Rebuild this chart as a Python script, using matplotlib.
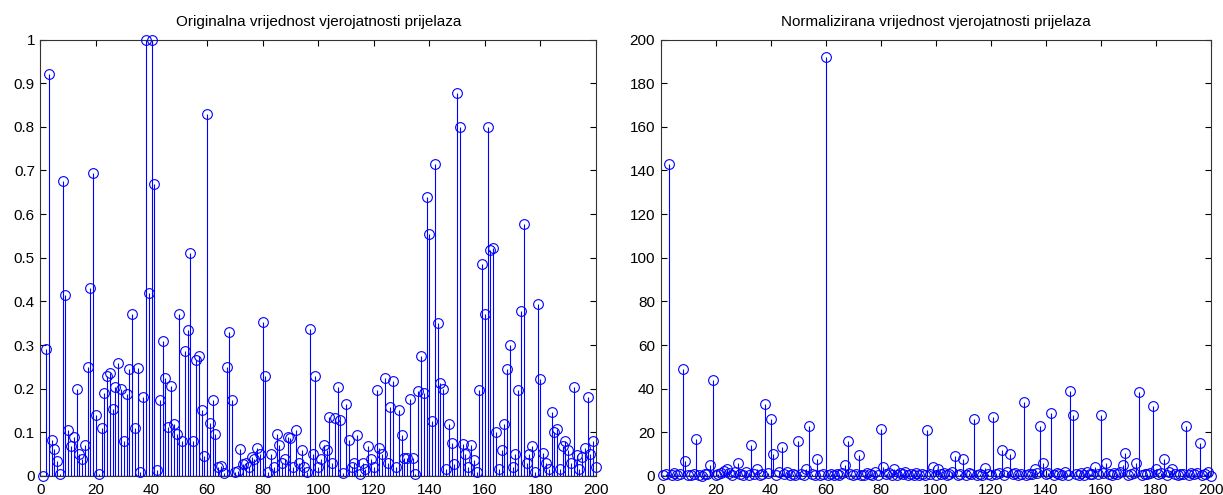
import numpy as np
import matplotlib
matplotlib.use('Agg')
import matplotlib.pyplot as plt
from matplotlib.ticker import FuncFormatter

# values (index 1..200)
original = [
    0.0, 0.29, 0.92, 0.082, 0.062, 0.034, 0.004, 0.675, 0.415, 0.105,
    0.069, 0.09, 0.20, 0.05, 0.04, 0.07, 0.25, 0.43, 0.695, 0.14,
    0.004, 0.11, 0.19, 0.23, 0.235, 0.154, 0.205, 0.26, 0.20, 0.08,
    0.187, 0.245, 0.37, 0.11, 0.248, 0.01, 0.18, 1.0, 0.42, 1.0,
    0.67, 0.014, 0.174, 0.31, 0.225, 0.113, 0.206, 0.12, 0.097, 0.37,
    0.08, 0.287, 0.334, 0.51, 0.08, 0.265, 0.276, 0.152, 0.046, 0.83,
    0.122, 0.174, 0.097, 0.02, 0.023, 0.008, 0.25, 0.33, 0.174, 0.009,
    0.012, 0.062, 0.027, 0.03, 0.02, 0.044, 0.04, 0.063, 0.05, 0.352,
    0.228, 0.01, 0.05, 0.02, 0.097, 0.07, 0.03, 0.04, 0.09, 0.088,
    0.02, 0.105, 0.03, 0.06, 0.02, 0.01, 0.337, 0.05, 0.228, 0.02,
    0.04, 0.07, 0.06, 0.135, 0.03, 0.133, 0.205, 0.128, 0.008, 0.164,
    0.082, 0.02, 0.03, 0.095, 0.005, 0.03, 0.015, 0.069, 0.04, 0.02,
    0.196, 0.065, 0.05, 0.225, 0.03, 0.158, 0.217, 0.02, 0.152, 0.095,
    0.042, 0.042, 0.177, 0.042, 0.005, 0.194, 0.276, 0.189, 0.64, 0.555,
    0.126, 0.714, 0.35, 0.213, 0.2, 0.015, 0.12, 0.076, 0.027, 0.877,
    0.80, 0.074, 0.05, 0.02, 0.07, 0.037, 0.01, 0.196, 0.485, 0.37,
    0.80, 0.518, 0.523, 0.1, 0.015, 0.06, 0.12, 0.244, 0.3, 0.02,
    0.05, 0.196, 0.377, 0.577, 0.03, 0.05, 0.069, 0.01, 0.395, 0.222,
    0.053, 0.03, 0.015, 0.146, 0.1, 0.108, 0.015, 0.069, 0.08, 0.06,
    0.03, 0.204, 0.047, 0.015, 0.044, 0.065, 0.18, 0.05, 0.08, 0.02,
]

normalized = [
    0.3, 0.8, 143, 0.5, 1.2, 0.4, 0.9, 49, 7, 0.6,
    0.3, 1.0, 17, 0.5, 0.2, 1.1, 0.7, 5, 44, 0.4,
    0.8, 1.5, 2.5, 3, 1.2, 0.5, 2, 6, 0.9, 0.4,
    2, 0.6, 14, 1.0, 3, 0.3, 0.7, 33, 1.2, 26,
    10, 0.5, 2, 13.5, 0.8, 2, 0.4, 1.1, 0.6, 16,
    0.7, 0.3, 3, 23, 1.0, 0.5, 8, 0.4, 0.9, 192,
    0.6, 1.1, 0.3, 0.8, 0.5, 1.5, 5, 16, 0.7, 0.4,
    1.0, 9.5, 0.6, 0.3, 1.2, 0.8, 0.5, 2, 0.4, 21.5,
    4, 0.7, 1.5, 0.6, 3, 0.4, 1.2, 0.8, 2, 0.5,
    0.9, 0.3, 1.4, 0.6, 0.8, 0.4, 21, 1.0, 4, 0.5,
    3, 0.7, 1.2, 0.4, 0.9, 2, 9, 0.6, 1.1, 8,
    0.5, 1.4, 0.8, 26, 0.3, 1.0, 0.6, 3.5, 0.9, 0.4,
    27, 0.7, 1.2, 12, 0.5, 2, 10, 0.8, 1.4, 0.6,
    0.9, 34, 0.4, 1.1, 0.7, 3, 1.3, 23, 6, 0.8,
    1.2, 29, 0.5, 1.5, 0.9, 0.6, 2, 0.4, 39, 28,
    1.0, 0.6, 1.3, 0.5, 2, 0.8, 1.1, 4, 0.7, 28,
    1.4, 6, 0.9, 0.5, 1.2, 0.7, 2, 5, 10.5, 0.6,
    0.9, 1.3, 6, 38.5, 0.4, 1.0, 0.7, 1.5, 32, 3,
    0.8, 1.2, 8, 0.6, 2, 3, 0.9, 0.5, 1.1, 0.7,
    23, 0.4, 1.2, 0.8, 1.5, 15, 0.6, 1.0, 2, 0.2,
]

titles = ['Originalna vrijednost vjerojatnosti prijelaza',
          'Normalizirana vrijednost vjerojatnosti prijelaza']
xticks = list(range(0, 201, 20))
yticks_left = [0, 0.1, 0.2, 0.3, 0.4, 0.5, 0.6, 0.7, 0.8, 0.9, 1]
yticks_right = list(range(0, 201, 20))

plt.rcParams['font.family'] = ['Liberation Sans', 'DejaVu Sans']
plt.rcParams['font.size'] = 11

fig = plt.figure(figsize=(12.23, 4.95), dpi=100)
ax1 = fig.add_axes([0.0331, 0.0384, 0.4542, 0.8818])
ax2 = fig.add_axes([0.5401, 0.0384, 0.4497, 0.8818])


def stem_plot(ax, y, ylim, yticks, title):
    x = np.arange(1, len(y) + 1)
    markers, stems, base = ax.stem(x, y, linefmt='b-', markerfmt='bo', basefmt='k-')
    stems.set_linewidth(0.8)
    stems.set_color('#0000ff')
    markers.set_markerfacecolor('none')
    markers.set_markeredgecolor('#0000ff')
    markers.set_markersize(7)
    markers.set_markeredgewidth(0.8)
    markers.set_clip_on(False)
    markers.set_zorder(3)
    base.set_visible(False)
    ax.axhline(0, color='k', lw=0.9, zorder=4)
    ax.set_xlim(0, 200)
    ax.set_ylim(*ylim)
    ax.set_xticks(xticks)
    ax.set_yticks(yticks)
    ax.yaxis.set_major_formatter(FuncFormatter(lambda v, p: '%g' % v))
    ax.tick_params(direction='in', top=True, right=True, length=4.5,
                   width=0.8, labelsize=11, pad=4)
    ax.tick_params(axis='x', pad=5)
    for s in ax.spines.values():
        s.set_linewidth(0.8)
        s.set_color('#333333')
    ax.set_title(title, fontsize=11, pad=10)


stem_plot(ax1, original, (0, 1), yticks_left, titles[0])
stem_plot(ax2, normalized, (0, 200), yticks_right, titles[1])

fig.savefig('out.png', dpi=100)
